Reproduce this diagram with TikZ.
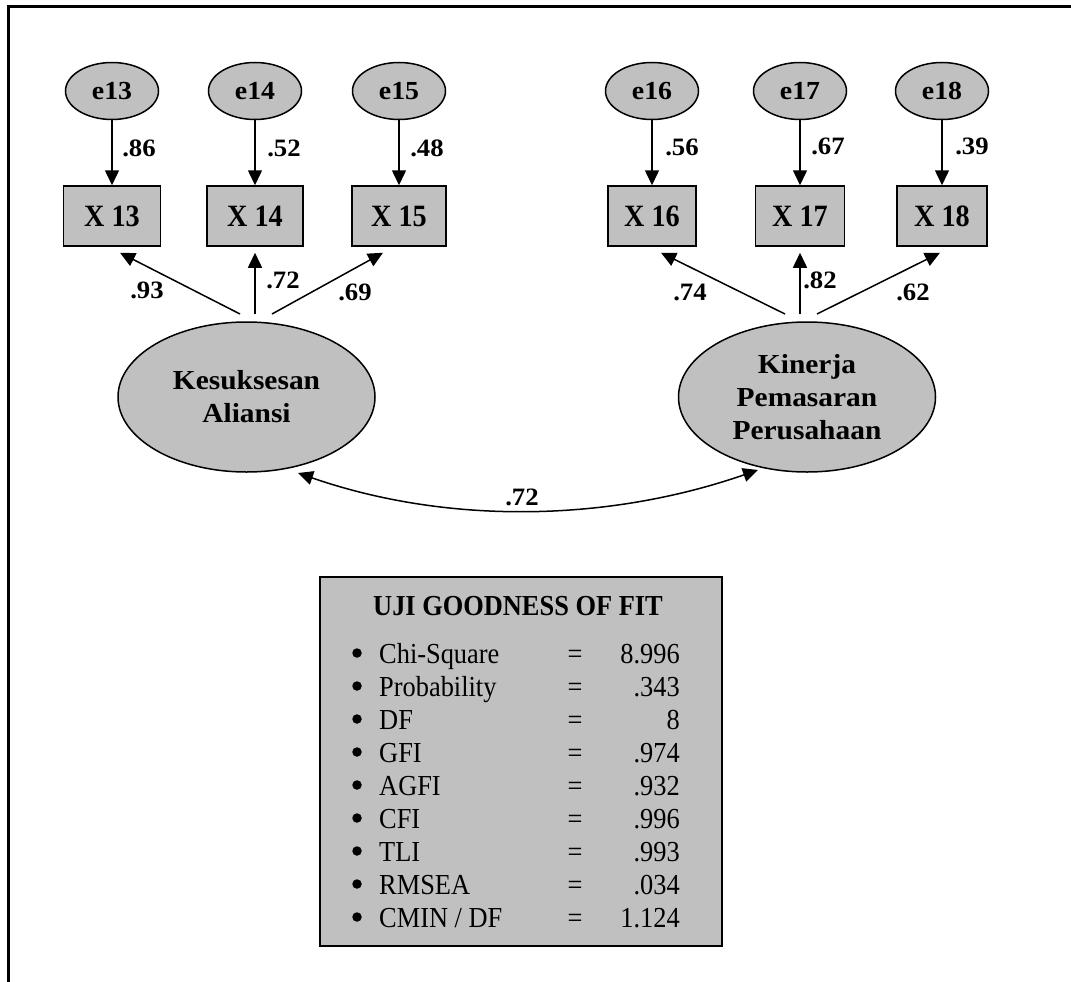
\documentclass[tikz,border=0pt]{standalone}
\usepackage{fontspec}
\setmainfont{Liberation Serif}
% slightly widened face for ellipse labels and coefficients, narrowed face for boxes and the fit table
\newfontfamily\widefont[FakeStretch=1.07]{Liberation Serif}
\newfontfamily\narrowfont[FakeStretch=0.91]{Liberation Serif}
\usetikzlibrary{shapes.geometric,arrows.meta,calc}
\definecolor{silver}{RGB}{192,192,192}

\begin{document}
\begin{tikzpicture}[x=1pt,y=-1pt,
  frameline/.style={line width=3pt},
  errterm/.style={ellipse, draw, line width=1.5pt, fill=silver,
    minimum width=93pt, minimum height=57pt, inner sep=0pt,
    font=\widefont\bfseries\fontsize{26}{30}\selectfont},
  indicator/.style={rectangle, draw, line width=1.5pt, fill=silver,
    minimum height=60pt, inner sep=0pt,
    font=\narrowfont\bfseries\fontsize{31}{34}\selectfont},
  latent/.style={ellipse, draw, line width=1.5pt, fill=silver,
    minimum width=257pt, minimum height=150pt, inner sep=0pt, align=center,
    font=\widefont\bfseries\fontsize{27.5}{33}\selectfont},
  coef/.style={inner sep=0pt, font=\widefont\bfseries\fontsize{25}{28}\selectfont},
  loadarrow/.style={-{Triangle[length=15pt,width=14pt]}, line width=1.5pt},
  covarrow/.style={{Triangle[length=15pt,width=14pt]}-{Triangle[length=15pt,width=14pt]}, line width=1.5pt},
  fitbox/.style={draw, line width=1.8pt, fill=silver, inner sep=0pt,
    minimum width=402pt, minimum height=369pt},
  fittext/.style={inner sep=0pt, font=\narrowfont\fontsize{29}{32}\selectfont},
  fitbullet/.style={circle, fill=black, inner sep=0pt, minimum size=9.5pt}
]
\useasboundingbox (0,0) rectangle (1071,982);

% page frame (top and left edges)
\draw[frameline] (8.8,982) -- (8.8,6.5) -- (1071,6.5);

% error terms and indicators
\foreach \n/\x/\w in {13/112/97,14/255/96,15/399/94,16/652/88,17/800/89,18/942/90}{
  \node[errterm] (e\n) at (\x,91) {e\n};
  \node[indicator, minimum width=\w pt] (X\n) at (\x,216) {X \n};
  \draw[loadarrow] (e\n) -- (X\n);
}

% error loadings
\node[coef] (c13) at (139,148) {.86};
\node[coef] (c14) at (284,148) {.52};
\node[coef] (c15) at (427,148) {.48};
\node[coef] (c16) at (682,147) {.56};
\node[coef] (c17) at (828,146) {.67};
\node[coef] (c18) at (972,146) {.39};

% latent constructs
\node[latent] (KA) at (246.5,397) {Kesuksesan\\Aliansi};
\node[latent] (KP) at (807,397) {Kinerja\\Pemasaran\\Perusahaan};

% loading origins above the latent ellipses
\coordinate (ka1) at (240,314);
\coordinate (ka2) at (255,314);
\coordinate (ka3) at (272,314);
\coordinate (kp1) at (785,314);
\coordinate (kp2) at (800,314);
\coordinate (kp3) at (817,314);

\draw[loadarrow] (ka1) -- ($(X13.south)+(8,6)$);
\draw[loadarrow] (ka2) -- ($(X14.south)+(0,6)$);
\draw[loadarrow] (ka3) -- ($(X15.south)+(-16,6)$);
\draw[loadarrow] (kp1) -- ($(X16.south)+(9,6)$);
\draw[loadarrow] (kp2) -- ($(X17.south)+(0,6)$);
\draw[loadarrow] (kp3) -- ($(X18.south)+(-2,6)$);

% factor loadings
\node[coef] (f13) at (147,290) {.93};
\node[coef] (f14) at (283,280) {.72};
\node[coef] (f15) at (355,292) {.69};
\node[coef] (f16) at (690,292) {.74};
\node[coef] (f17) at (820,280) {.82};
\node[coef] (f18) at (913,292) {.62};

% correlation between the constructs
\draw[covarrow] ($(KA.center)+(51.5,76)$) .. controls +(150,52) and +(-150,52) .. ($(KP.center)+(-49,73)$);
\node[coef] (rho) at (522,497) {.72};

% goodness of fit summary
\node[fitbox] (gof) at (521,761.5) {};
\node[fittext, anchor=base, font=\narrowfont\bfseries\fontsize{29}{32}\selectfont] (goft) at (518,615) {UJI GOODNESS OF FIT};
\foreach [count=\i from 0] \name/\val in {Chi-Square/8.996, Probability/.343, DF/8, GFI/.974, AGFI/.932, CFI/.996, TLI/.993, RMSEA/.034, {CMIN / DF}/1.124}{
  \node[fitbullet] (b\i) at (357,{653+33*\i}) {};
  \node[fittext, anchor=base west] (n\i) at (379,{663+33*\i}) {\name};
  \node[fittext, anchor=base] (q\i) at (575,{663+33*\i}) {=};
  \node[fittext, anchor=base east] (v\i) at (680,{663+33*\i}) {\val};
}
\end{tikzpicture}
\end{document}
